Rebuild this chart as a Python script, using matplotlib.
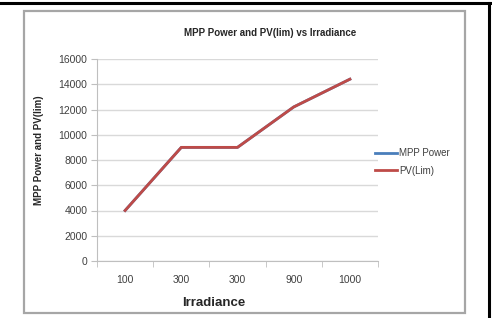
import matplotlib
matplotlib.use("Agg")
import matplotlib.pyplot as plt
from matplotlib.patches import Rectangle
from matplotlib.lines import Line2D

categories = ["100", "300", "300", "900", "1000"]
mpp_power = [4000, 9000, 9000, 12200, 14400]
pv_lim = [4000, 9000, 9000, 12200, 14400]
y_ticks = [0, 2000, 4000, 6000, 8000, 10000, 12000, 14000, 16000]

plt.rcParams['font.family'] = ['Liberation Sans', 'DejaVu Sans']

W, H = 492, 318
fig = plt.figure(figsize=(W / 100, H / 100), dpi=100)
fig.patch.set_facecolor("white")

def fx(px):
    return px / W

def fy(py):
    return 1 - py / H

# outer black border lines (top and right)
fig.add_artist(Line2D([0, fx(490)], [fy(3), fy(3)], color="black", lw=2.2))
fig.add_artist(Line2D([fx(489), fx(489)], [fy(3), 0], color="black", lw=2.2))
# chart area gray border
fig.add_artist(Rectangle((fx(24), fy(313)), fx(465) - fx(24), fy(11) - fy(313),
                         fill=False, edgecolor="#a6a6a6", lw=1.6))

left, right, top, bottom = 97, 378, 59, 261
ax = fig.add_axes([fx(left), fy(bottom), fx(right) - fx(left), fy(top) - fy(bottom)])
x = list(range(len(categories)))
ax.plot(x, mpp_power, color="#4a7ebb", lw=2.0, label="MPP Power")
ax.plot(x, pv_lim, color="#be4b48", lw=2.0, label="PV(Lim)")
ax.set_xlim(-0.5, len(categories) - 0.5)
ax.set_ylim(0, 16000)
ax.set_yticks(y_ticks)
ax.set_yticklabels([str(v) for v in y_ticks], fontsize=7.5, color="#404040")
ax.set_xticks(x)
ax.set_xticklabels(categories, fontsize=7.5, color="#404040")
ax.tick_params(axis="x", length=0, pad=10)
ax.set_xticks([i - 0.5 for i in range(len(categories) + 1)], minor=True)
ax.tick_params(axis="x", which="minor", length=4, color="#bfbfbf", direction="out")
ax.tick_params(axis="y", length=4, color="#bfbfbf", pad=3)
ax.grid(axis="y", color="#d9d9d9", lw=1)
ax.set_axisbelow(True)
for s in ["top", "right"]:
    ax.spines[s].set_visible(False)
ax.spines["left"].set_color("#bfbfbf")
ax.spines["bottom"].set_color("#bfbfbf")

fig.text(fx(270), fy(33), "MPP Power and PV(lim) vs Irradiance", ha="center", va="center",
         fontsize=7, fontweight="bold", color="#262626")
fig.text(fx(39), fy(150), "MPP Power and PV(lim)", ha="center", va="center",
         rotation=90, fontsize=7, fontweight="bold", color="#262626")
fig.text(fx(214), fy(303), "Irradiance", ha="center", va="center",
         fontsize=9.5, fontweight="bold", color="#262626")

leg = ax.legend(loc="center left", bbox_to_anchor=(fx(375), fy(162)),
                bbox_transform=fig.transFigure, frameon=False, fontsize=7,
                handlelength=2.3, handletextpad=0.15, labelspacing=0.75,
                borderaxespad=0, borderpad=0)
for t in leg.get_texts():
    t.set_color("#404040")

fig.savefig("out.png", dpi=100, facecolor="white")
